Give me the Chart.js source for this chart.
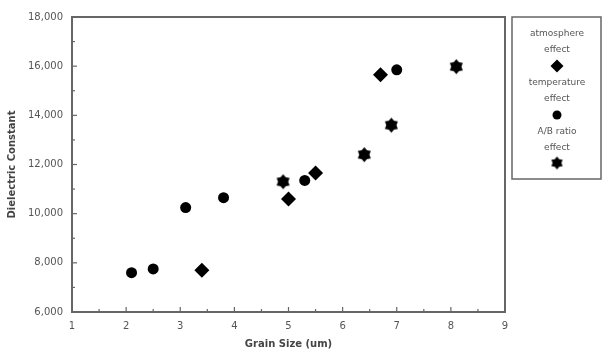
<!DOCTYPE html>
<html>
<head>
<meta charset="utf-8">
<script src="https://cdn.jsdelivr.net/npm/chart.js@4/dist/chart.umd.min.js"></script>
<style>
  html, body { margin: 0; padding: 0; background: #fff; }
  #wrap { width: 603px; height: 351px; position: relative; }
</style>
</head>
<body>
<div id="wrap"><canvas id="canvas"></canvas></div>
<script>
// data
var atmosphereX = [3.4, 5.0, 5.5, 6.7];
var atmosphereY = [7700, 10600, 11650, 15650];
var temperatureX = [2.1, 2.5, 3.1, 3.8, 5.3, 7.0];
var temperatureY = [7600, 7750, 10250, 10650, 11350, 15850];
var ratioX = [4.9, 6.4, 6.9, 8.1];
var ratioY = [11300, 12400, 13600, 15980];
var seriesNames = [['atmosphere', 'effect'], ['temperature', 'effect'], ['A/B ratio', 'effect']];
var xTicks = [1, 2, 3, 4, 5, 6, 7, 8, 9];
var yTicks = [6000, 8000, 10000, 12000, 14000, 16000, 18000];

var pairs = function(xs, ys) {
  var out = [];
  for (var i = 0; i < xs.length; i++) {
    out.push({x: xs[i], y: ys[i]});
  }
  return out;
};

// filled star used as a point style
var makeStar = function(r) {
  var c = document.createElement('canvas');
  c.width = c.height = r * 2 + 2;
  var g = c.getContext('2d');
  g.translate(r + 1, r + 1);
  g.beginPath();
  for (var i = 0; i < 12; i++) {
    var rad = (i % 2 == 0) ? r : r * 0.68;
    var a = Math.PI * i / 6 - Math.PI / 2;
    g.lineTo(rad * Math.cos(a), rad * Math.sin(a));
  }
  g.closePath();
  g.fillStyle = '#000';
  g.fill();
  return c;
};
var star = makeStar(7.5);
var starSmall = makeStar(6.5);

var font = "'DejaVu Sans', Verdana, sans-serif";
var axisColor = '#666';

var boxPlugin = {
  id: 'box',
  afterDraw: function(chart) {
    var ctx = chart.ctx;
    var a = chart.chartArea;
    var xs = chart.scales.x, ys = chart.scales.y;
    ctx.save();
    ctx.strokeStyle = axisColor;
    ctx.lineWidth = 2;
    ctx.strokeRect(a.left, a.top, a.right - a.left, a.bottom - a.top);
    ctx.lineWidth = 1.2;
    // inner tick marks
    for (var v = 1; v <= 9; v += 0.5) {
      var px = xs.getPixelForValue(v);
      var len = (v % 1 == 0) ? 5 : 3;
      ctx.beginPath();
      ctx.moveTo(px, a.bottom);
      ctx.lineTo(px, a.bottom - len);
      ctx.stroke();
    }
    for (var w = 6000; w <= 18000; w += 1000) {
      var py = ys.getPixelForValue(w);
      var l2 = (w % 2000 == 0) ? 5 : 3;
      ctx.beginPath();
      ctx.moveTo(a.left, py);
      ctx.lineTo(a.left + l2, py);
      ctx.stroke();
    }
    // legend box
    ctx.lineWidth = 1.5;
    ctx.strokeRect(512, 17, 89, 162);
    ctx.fillStyle = '#555';
    ctx.font = '9px ' + font;
    ctx.textAlign = 'center';
    ctx.textBaseline = 'middle';
    var cx = 557;
    var rows = [34, 50, 83, 99, 132, 148];
    for (var k = 0; k < 3; k++) {
      ctx.fillText(seriesNames[k][0], cx, rows[k * 2]);
      ctx.fillText(seriesNames[k][1], cx, rows[k * 2 + 1]);
    }
    ctx.fillStyle = '#000';
    Chart.helpers.drawPoint(ctx, {pointStyle: 'rectRot', radius: 6.5, borderWidth: 0}, cx, 66);
    ctx.beginPath();
    ctx.arc(cx, 115, 4.5, 0, Math.PI * 2);
    ctx.fill();
    ctx.drawImage(starSmall, cx - starSmall.width / 2, 163 - starSmall.height / 2);
    ctx.restore();
  }
};

var ctx = document.getElementById('canvas').getContext('2d');

window.myChart = new Chart(ctx, {
  type: 'scatter',
  data: {
    datasets: [{
      label: 'atmosphere effect',
      data: pairs(atmosphereX, atmosphereY),
      pointStyle: 'rectRot',
      pointRadius: 7.5,
      backgroundColor: '#000',
      borderColor: '#000',
      borderWidth: 0
    }, {
      label: 'temperature effect',
      data: pairs(temperatureX, temperatureY),
      pointStyle: 'circle',
      pointRadius: 5.5,
      backgroundColor: '#000',
      borderColor: '#000',
      borderWidth: 0
    }, {
      label: 'A/B ratio effect',
      data: pairs(ratioX, ratioY),
      pointStyle: star,
      backgroundColor: '#000',
      borderColor: '#000'
    }]
  },
  options: {
    responsive: true,
    maintainAspectRatio: false,
    animation: false,
    layout: { padding: { left: 0, top: 17, right: 98, bottom: 0 } },
    plugins: {
      legend: { display: false },
      tooltip: { enabled: false }
    },
    scales: {
      x: {
        type: 'linear',
        min: 1,
        max: 9,
        afterBuildTicks: function(scale) {
          scale.ticks = xTicks.map(function(v) { return {value: v}; });
        },
        afterFit: function(scale) { scale.height = 39; },
        grid: { display: false, drawTicks: false },
        border: { display: false },
        ticks: {
          padding: 8,
          color: '#555',
          font: { family: font, size: 10 },
          maxRotation: 0
        },
        title: {
          display: true,
          text: 'Grain Size (um)',
          color: '#444',
          font: { family: font, size: 10, weight: 'bold' },
          padding: { top: 0, bottom: 1 }
        }
      },
      y: {
        type: 'linear',
        min: 6000,
        max: 18000,
        afterBuildTicks: function(scale) {
          scale.ticks = yTicks.map(function(v) { return {value: v}; });
        },
        afterFit: function(scale) { scale.width = 72; },
        grid: { display: false, drawTicks: false },
        border: { display: false },
        ticks: {
          padding: 9,
          color: '#555',
          font: { family: font, size: 10 },
          callback: function(v) { return v.toLocaleString('en-US'); }
        },
        title: {
          display: true,
          text: 'Dielectric Constant',
          color: '#444',
          font: { family: font, size: 10, weight: 'bold' },
          padding: { top: 6, bottom: 0 }
        }
      }
    }
  },
  plugins: [boxPlugin]
});
</script>
</body>
</html>
